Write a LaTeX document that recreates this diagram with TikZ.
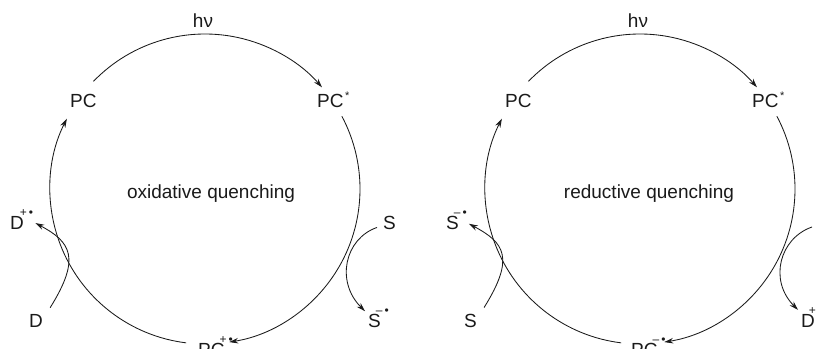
\documentclass[tikz,border=0pt]{standalone}
\usepackage{fontspec}
\setmainfont{Liberation Sans}
\usetikzlibrary{arrows.meta}
\definecolor{ink}{HTML}{1A1A1A}
\newcommand{\rchg}[2]{\kern#1\raisebox{13pt}{\fontsize{12}{12}\selectfont #2}}
\newcommand{\excited}{\kern1.5pt\raisebox{8pt}{\fontsize{11}{11}\selectfont *}}

\begin{document}
\begin{tikzpicture}[x=1pt,y=1pt,font=\fontsize{19}{22}\selectfont,
  >={Stealth[length=9pt,width=5.5pt]},
  lbl/.style={inner sep=0pt,anchor=base west,text=ink},
  mid/.style={lbl,anchor=base},
  cyc/.style={->,line width=0.85pt,draw=ink},
  side/.style={->,line width=0.85pt,draw=ink}]

\path[use as bounding box] (0,0) rectangle (818,348);
\clip (0,0) rectangle (818,348);

% oxidative quenching
\coordinate (cL) at (205,159);
\node[mid] (hvL) at (203,320) {hν};
\node[lbl] (pcL) at (70,240) {PC};
\node[lbl] (pcsL) at (317,240) {PC\excited};
\node[mid] (titleL) at (211,149) {oxidative quenching};
\node[lbl] (pcoxL) at (198,-8) {PC\rchg{-5pt}{+\,•}};
\node[lbl] (dL) at (29,21) {D};
\node[lbl] (dradL) at (10,118) {D\rchg{-4pt}{+\,•}};
\node[lbl] (sL) at (383,118) {S};
\node[lbl] (sradL) at (368,21) {S\rchg{-5pt}{–\,•}};

\draw[cyc] ([shift={(136:155)}]cL) arc[start angle=136,end angle=41,radius=155];
\draw[cyc] ([shift={(28:155)}]cL) arc[start angle=28,end angle=-81,radius=155];
\draw[cyc] ([shift={(263:155)}]cL) arc[start angle=263,end angle=153,radius=155];

\draw[side] ([shift={(7,6)}]dL.north east)
  to[out=58,in=-28,out distance=59pt,in distance=40pt] ([shift={(2,-3)}]dradL.east);
\draw[side] ([shift={(-6,-4)}]sL.west)
  to[out=199,in=135,out distance=34pt,in distance=42pt] ([shift={(-3,-3)}]sradL.north west);

% reductive quenching
\coordinate (cR) at (640,159);
\node[mid] (hvR) at (638,320) {hν};
\node[lbl] (pcR) at (505,240) {PC};
\node[lbl] (pcsR) at (752,240) {PC\excited};
\node[mid] (titleR) at (649,149) {reductive quenching};
\node[lbl] (pcredR) at (631,-8) {PC\rchg{-5pt}{–\,•}};
\node[lbl] (sR) at (464,21) {S};
\node[lbl] (sradR) at (446,118) {S\rchg{-5pt}{–\,•}};
\node[lbl] (dradR) at (801,21) {D\rchg{-6pt}{+\,•}};
\coordinate (dR) at (812,121);

\draw[cyc] ([shift={(136:155)}]cR) arc[start angle=136,end angle=41,radius=155];
\draw[cyc] ([shift={(28:155)}]cR) arc[start angle=28,end angle=-81,radius=155];
\draw[cyc] ([shift={(263:155)}]cR) arc[start angle=263,end angle=153,radius=155];

\draw[side] ([shift={(7,6)}]sR.north east)
  to[out=58,in=-28,out distance=59pt,in distance=40pt] ([shift={(2,-3)}]sradR.east);
\draw[side] (dR)
  to[out=199,in=135,out distance=34pt,in distance=42pt] ([shift={(-3,-3)}]dradR.north west);
\end{tikzpicture}
\end{document}
